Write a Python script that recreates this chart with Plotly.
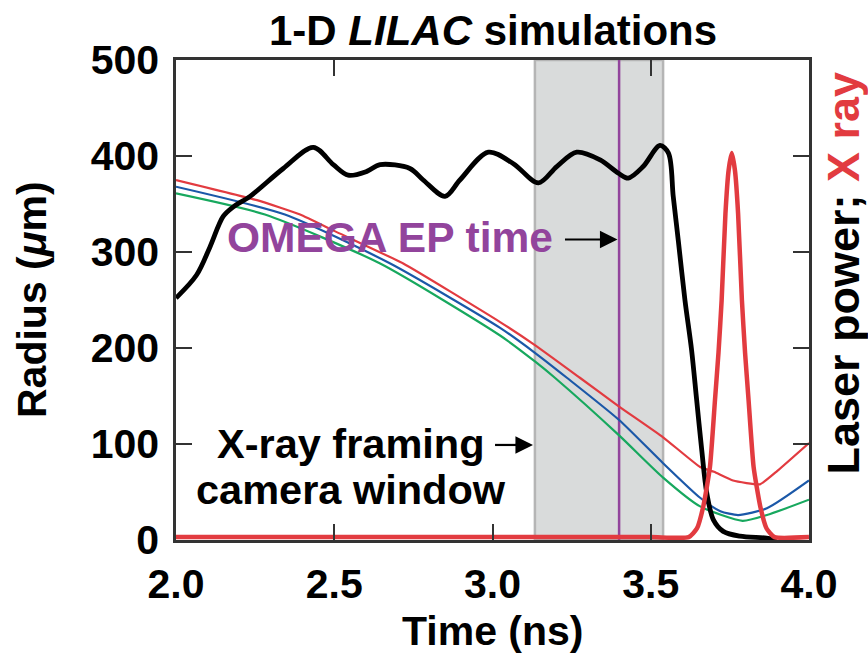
import plotly.graph_objects as go

# ---- data ----
shell_t = [2.0, 2.065, 2.107, 2.149, 2.181, 2.234, 2.339, 2.434, 2.497, 2.544, 2.603, 2.645,
           2.739, 2.781, 2.85, 2.897, 2.987, 3.066, 3.145, 3.203, 3.266, 3.34, 3.398, 3.429,
           3.476, 3.529, 3.556, 3.571, 3.587, 3.608, 3.629, 3.645, 3.661, 3.677, 3.698,
           3.729, 3.782, 3.866, 3.898]
shell_r = [252, 276, 305, 337, 347, 358, 387, 409, 391, 380, 384, 391,
           387, 375, 358, 375, 404, 392, 372, 389, 404, 396, 382, 377,
           389, 411, 403, 358, 312, 250, 198, 146, 94, 49, 21,
           9, 4, 2, 0]

red_t = [2.0, 2.256, 2.392, 2.5, 2.718, 3.024, 3.134, 3.276, 3.40, 3.539, 3.656, 3.70, 3.76, 3.845, 3.9, 4.0]
red_r = [375, 354, 339, 322, 288, 227, 203, 169, 139, 107, 76, 71, 62, 58, 72, 101]

blue_t = [2.0, 2.344, 2.677, 3.024, 3.134, 3.235, 3.40, 3.539, 3.656, 3.72, 3.776, 3.867, 4.0]
blue_r = [368, 339, 288, 221, 195, 169, 125, 80, 44, 30, 26, 33, 62]

green_t = [2.0, 2.281, 2.645, 3.024, 3.134, 3.197, 3.40, 3.539, 3.656, 3.79, 3.867, 4.0]
green_r = [361, 339, 288, 213, 186, 169, 109, 65, 35, 20, 26, 42]

xray_t = [2.0, 2.5, 3.0, 3.5, 3.62, 3.646, 3.666, 3.687, 3.703, 3.714, 3.724, 3.736, 3.746,
          3.756, 3.766, 3.776, 3.788, 3.798, 3.809, 3.825, 3.846, 3.866, 3.891, 4.0]
xray_p = [3, 3, 3, 3, 3, 12, 35, 76, 146, 195, 250, 340, 385,
          403, 385, 340, 250, 195, 146, 76, 35, 12, 3, 3]

window = [3.134, 3.539]
ep_time = 3.40

# arrow (tail, tip, level) for the two callouts
ep_arrow = [3.229, 3.395, 313]
win_arrow = [3.008, 3.128, 99]

x_ticks = [2.0, 2.5, 3.0, 3.5, 4.0]
x_ticktext = ["2.0", "2.5", "3.0", "3.5", "4.0"]
y_ticks = [0, 100, 200, 300, 400, 500]

FONT = "Liberation Sans, Arial, Helvetica, sans-serif"
AX = "#333333"
RED = "#e23b40"
BLUE = "#1b58a8"
GREEN = "#17a85e"
PURPLE = "#92449c"

fig = go.Figure()
fig.add_trace(go.Scatter(x=green_t, y=green_r, mode="lines", line=dict(color=GREEN, width=2.2, shape="spline", smoothing=0.6)))
fig.add_trace(go.Scatter(x=blue_t, y=blue_r, mode="lines", line=dict(color=BLUE, width=2.2, shape="spline", smoothing=0.6)))
fig.add_trace(go.Scatter(x=red_t, y=red_r, mode="lines", line=dict(color=RED, width=2.2, shape="spline", smoothing=0.4)))
fig.add_trace(go.Scatter(x=xray_t, y=xray_p, mode="lines", xaxis="x2", line=dict(color=RED, width=4.5, shape="spline", smoothing=0.5)))
fig.add_trace(go.Scatter(x=shell_t, y=shell_r, mode="lines", line=dict(color="black", width=4.8, shape="spline", smoothing=0.9)))

fig.add_shape(type="rect", xref="x", yref="paper", x0=window[0], x1=window[1], y0=0, y1=1,
              fillcolor="#d9dbdb", line=dict(color="#b5b5b5", width=2.5), layer="below")
fig.add_shape(type="line", xref="x", yref="paper", x0=ep_time, x1=ep_time, y0=0, y1=1,
              line=dict(color=PURPLE, width=2.5), layer="below")

# arrow shafts
for a in (ep_arrow, win_arrow):
    fig.add_shape(type="line", xref="x", yref="y", x0=a[0], x1=a[1] - 0.02, y0=a[2], y1=a[2],
                  line=dict(color="black", width=2.2))

tf = dict(family=FONT, size=41, color="black", weight="bold")

ann = []
ann.append(dict(text="1-D <i>LILAC</i> simulations", xref="paper", yref="paper", x=0.5, y=1.0,
                yshift=30, showarrow=False, font=dict(family=FONT, size=42, color="black", weight="bold"),
                yanchor="middle", xanchor="center"))
ann.append(dict(text="Time (ns)", xref="paper", yref="paper", x=0.5, y=0, yshift=-91,
                showarrow=False, font=tf, yanchor="middle", xanchor="center"))
ann.append(dict(text="Radius (<i>μ</i>m)", xref="paper", yref="paper", x=0, xshift=-144, y=0.5,
                showarrow=False, font=tf, textangle=-90, yanchor="middle", xanchor="center"))
ann.append(dict(text="Laser power; <span style='color:%s'>X ray</span>" % RED, xref="paper", yref="paper",
                x=1, xshift=35, y=0.555, showarrow=False, font=dict(family=FONT, size=45, color="black", weight="bold"),
                textangle=-90, yanchor="middle", xanchor="center"))
ann.append(dict(text="OMEGA EP time", xref="x", yref="y", x=2.676, y=315, showarrow=False,
                font=dict(family=FONT, size=42.5, color=PURPLE, weight="bold"), xanchor="center", yanchor="middle"))
ann.append(dict(text="X-ray framing", xref="x", yref="y", x=2.553, y=101, showarrow=False,
                font=dict(family=FONT, size=41.5, color="black", weight="bold"), xanchor="center", yanchor="middle"))
ann.append(dict(text="camera window", xref="x", yref="y", x=2.553, y=53, showarrow=False,
                font=dict(family=FONT, size=41.5, color="black", weight="bold"), xanchor="center", yanchor="middle"))
# arrow heads
for a in (ep_arrow, win_arrow):
    ann.append(dict(text="", xref="x", yref="y", x=a[1], y=a[2], axref="x", ayref="y",
                    ax=a[1] - 0.06, ay=a[2], showarrow=True, arrowhead=2, arrowsize=1.6,
                    arrowwidth=2.2, arrowcolor="black"))

fig.update_layout(
    width=868, height=665,
    margin=dict(l=176, r=59, t=60, b=125),
    paper_bgcolor="white", plot_bgcolor="white",
    showlegend=False,
    font=dict(family=FONT, color="black"),
    annotations=ann,
    xaxis=dict(range=[2, 4], tickvals=x_ticks, ticktext=x_ticktext, ticks="inside", ticklen=16,
               tickwidth=2, tickcolor=AX, showline=True, linecolor=AX, linewidth=2.5, mirror=True,
               showgrid=False, zeroline=False, tickfont=tf, ticklabelstandoff=6),
    xaxis2=dict(range=[2, 4], overlaying="x", side="top", tickvals=[2.5, 3.5], ticks="inside",
                ticklen=16, tickwidth=2, tickcolor=AX, showticklabels=False, showgrid=False,
                zeroline=False, showline=False),
    yaxis=dict(range=[0, 500], tickvals=y_ticks, ticks="inside", ticklen=16, tickwidth=2, tickcolor=AX,
               showline=True, linecolor=AX, linewidth=2.5, mirror="ticks", showgrid=False,
               zeroline=False, tickfont=tf, ticklabelstandoff=6),
)

fig.write_html("out.html")
